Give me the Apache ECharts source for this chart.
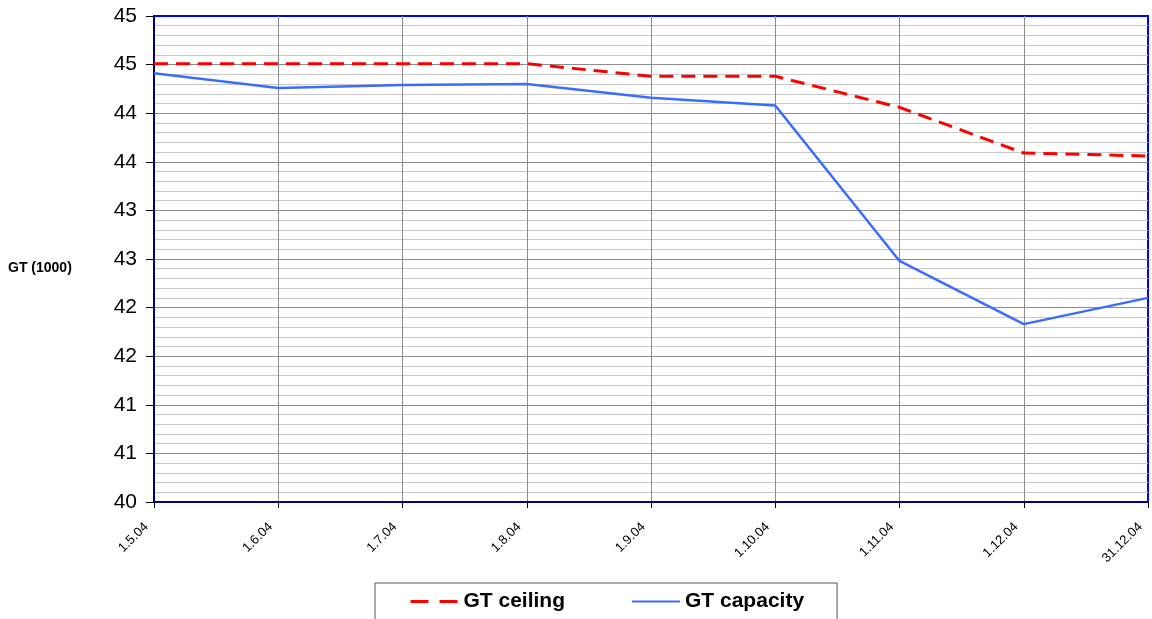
<!DOCTYPE html>
<html>
<head>
<meta charset="utf-8">
<script src="https://cdn.jsdelivr.net/npm/echarts@6/dist/echarts.min.js"></script>
<style>
  html, body { margin: 0; padding: 0; background: #fff; }
  #chart { width: 1152px; height: 619px; }
</style>
</head>
<body>
<div id="chart"></div>
<script>
// dates on the x axis
const dates = ['1.5.04', '1.6.04', '1.7.04', '1.8.04', '1.9.04', '1.10.04', '1.11.04', '1.12.04', '31.12.04']
// GT (1000)
const ceiling = [44.51, 44.51, 44.51, 44.51, 44.38, 44.38, 44.06, 43.59, 43.56]
const capacity = [44.41, 44.26, 44.29, 44.30, 44.16, 44.08, 42.48, 41.83, 42.10]

const chart = echarts.init(document.getElementById('chart'))

chart.setOption({
  backgroundColor: '#fff',
  animation: false,
  graphic: [{
    type: 'text', left: 8, top: 261,
    style: { text: 'GT (1000)', font: 'bold 14px "Liberation Sans"', fill: '#000' }
  }],
  grid: {
    left: 154, right: 4, top: 16, bottom: 117,
    show: true, borderColor: '#0000ff', borderWidth: 2
  },
  legend: {
    left: 375, top: 583,
    padding: [8, 33, 14, 34],
    borderColor: '#555', borderWidth: 1,
    itemWidth: 48, itemHeight: 14, itemGap: 66,
    itemStyle: { opacity: 0 },
    textStyle: { fontFamily: 'Liberation Sans', fontWeight: 'bold', fontSize: 21, color: '#000' },
    data: [
      { name: 'GT ceiling', lineStyle: { type: [18, 11], width: 3 } },
      { name: 'GT capacity' }
    ]
  },
  xAxis: {
    type: 'category', data: dates, boundaryGap: false,
    axisLine: { lineStyle: { color: '#000080', width: 2 } },
    axisTick: { show: true, length: 6, lineStyle: { color: '#000' } },
    axisLabel: {
      rotate: 45, fontSize: 13, color: '#000', fontFamily: 'Liberation Sans',
      margin: 15, padding: [0, 11, 0, 0]
    },
    splitLine: { show: true, showMinLine: false, showMaxLine: false, lineStyle: { color: '#8c8c8c', width: 1 } }
  },
  yAxis: {
    type: 'value', min: 40, max: 45, interval: 0.5,
    axisLine: { show: true, lineStyle: { color: '#000080', width: 2 } },
    axisTick: { show: true, length: 8, lineStyle: { color: '#000' } },
    axisLabel: {
      fontSize: 21, color: '#000', fontFamily: 'Liberation Sans', margin: 17,
      formatter: v => String(Math.round(v))
    },
    splitLine: { show: true, showMinLine: false, showMaxLine: false, lineStyle: { color: '#8c8c8c', width: 1 } },
    minorTick: { show: false, splitNumber: 5 },
    minorSplitLine: { show: true, lineStyle: { color: '#c8c8c8', width: 1 } }
  },
  series: [
    {
      name: 'GT ceiling', type: 'line', data: ceiling, symbol: 'none',
      lineStyle: { color: '#ff0000', width: 3, type: [14, 8] },
      itemStyle: { color: '#ff0000' }, z: 3
    },
    {
      name: 'GT capacity', type: 'line', data: capacity, symbol: 'none',
      lineStyle: { color: '#3c6cff', width: 2.5 },
      itemStyle: { color: '#3c6cff' }, z: 4
    }
  ]
})
</script>
</body>
</html>
